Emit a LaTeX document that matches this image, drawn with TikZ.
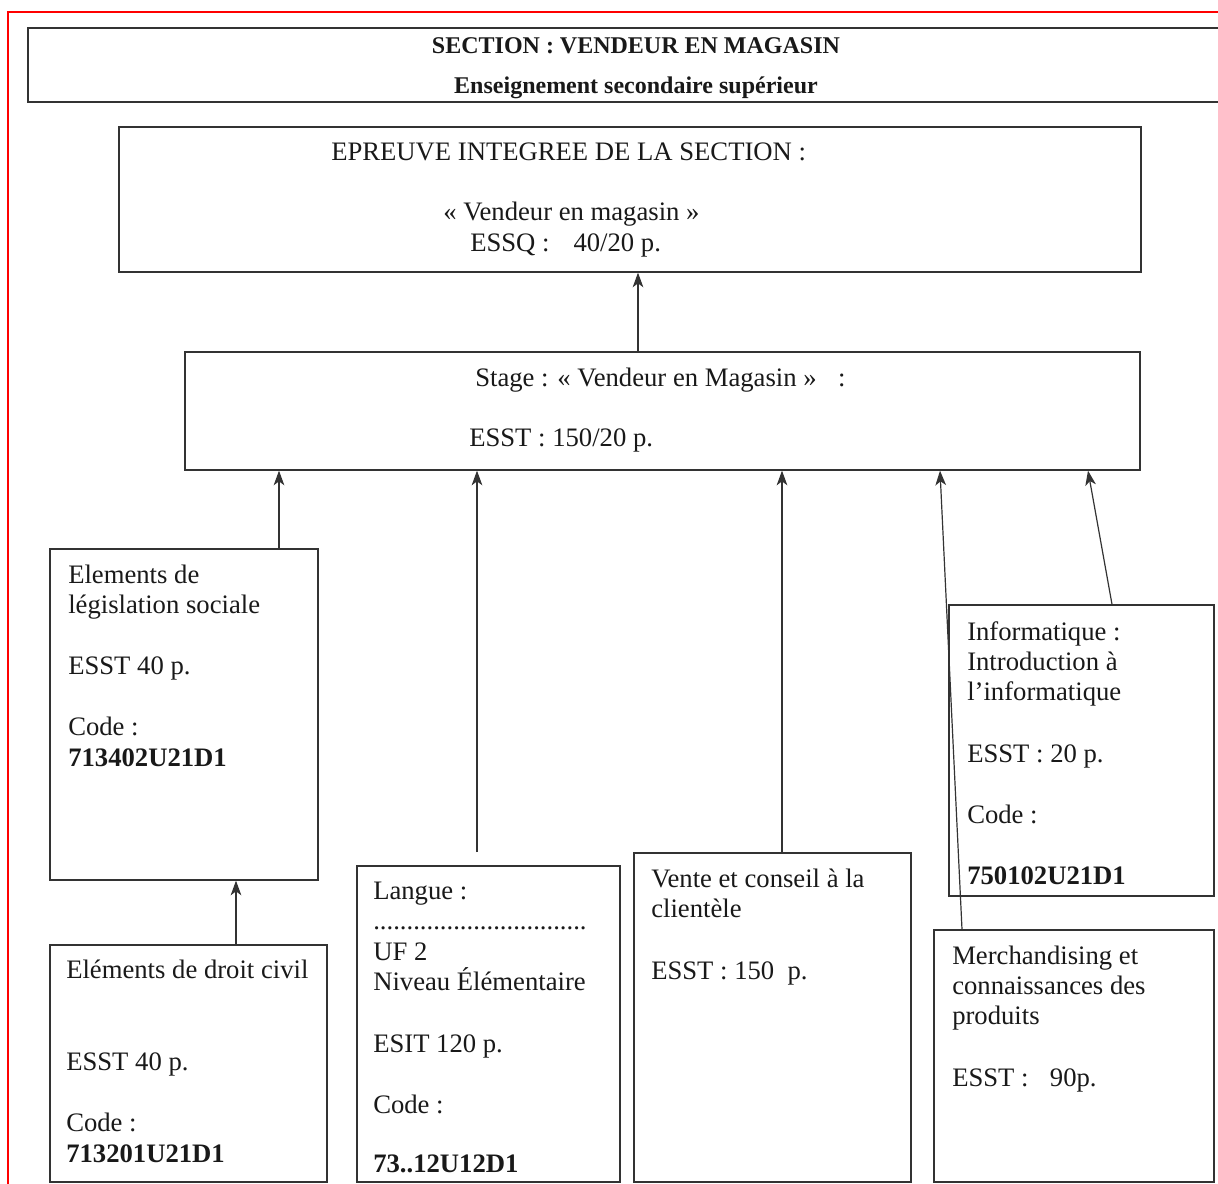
\documentclass[tikz,border=0pt]{standalone}
\usepackage{fontspec}
\setmainfont{Liberation Serif}
\usetikzlibrary{arrows.meta,fit}
\begin{document}
\begin{tikzpicture}[x=0.75pt,y=-0.75pt,
  box/.style={draw=black!80,line width=1pt,inner sep=0pt,rectangle},
  txt/.style={inner sep=0pt,anchor=base west,font=\fontsize{20}{24}\selectfont,text=black!90},
  hdr/.style={inner sep=0pt,anchor=base,font=\fontsize{18}{22}\selectfont\bfseries,text=black!90},
  arr/.style={draw=black!80,line width=0.9pt,-{Stealth[length=11pt,width=8pt,inset=3pt]}}]
\useasboundingbox (0,0) rectangle (1218,1184);
\fill[white] (0,0) rectangle (1218,1184);
% red frame
\draw[red,line width=1.5pt] (8,1190) -- (8,12) -- (1225,12);

% header
\node[box,fit={(28,28) (1226,102)}] (head) {};
\node[hdr] (h1) at (636,54) {SECTION : VENDEUR EN MAGASIN};
\node[hdr] (h2) at (636,94) {Enseignement secondaire supérieur};

% epreuve
\node[box,fit={(119,127) (1141,272)}] (epr) {};
\node[txt] (e1) at (331,161) {EPREUVE INTEGREE DE LA SECTION :};
\node[txt] (e2) at (443,221) {« Vendeur en magasin »};
\node[txt] (e3) at (470,252) {ESSQ :\hspace{0.9em}40/20 p.};

% stage
\node[box,fit={(185,352) (1140,470)}] (stage) {};
\node[txt] (s1) at (475,386) {Stage : « Vendeur en Magasin »\hspace{0.8em}:};
\node[txt] (s2) at (469,446) {ESST : 150/20 p.};

% legislation sociale
\node[box,fit={(50,549) (318,880)}] (legis) {};
\node[txt] (l1) at (68,583) {Elements de};
\node[txt] (l2) at (68,613) {législation sociale};
\node[txt] (l3) at (68,674) {ESST 40 p.};
\node[txt] (l4) at (68,735) {Code :};
\node[txt] (l5) at (68,766) {\bfseries 713402U21D1};

% droit civil
\node[box,fit={(50,945) (327,1182)}] (droit) {};
\node[txt] (d1) at (66,978) {Eléments de droit civil};
\node[txt] (d2) at (66,1070) {ESST 40 p.};
\node[txt] (d3) at (66,1131) {Code :};
\node[txt] (d4) at (66,1162) {\bfseries 713201U21D1};

% langue
\node[box,fit={(357,866) (620,1182)}] (langue) {};
\node[txt] (g1) at (373,899) {Langue :};
\node[txt] (g2) at (373,929) {................................};
\node[txt] (g3) at (373,960) {UF 2};
\node[txt] (g4) at (373,990) {Niveau Élémentaire};
\node[txt] (g5) at (373,1052) {ESIT 120 p.};
\node[txt] (g6) at (373,1113) {Code :};
\node[txt] (g7) at (373,1172) {\bfseries 73..12U12D1};

% vente
\node[box,fit={(634,853) (911,1182)}] (vente) {};
\node[txt] (v1) at (651,887) {Vente et conseil à la};
\node[txt] (v2) at (651,917) {clientèle};
\node[txt] (v3) at (651,979) {ESST : 150\hspace{0.5em}p.};

% informatique
\node[box,fit={(949,605) (1214,896)}] (info) {};
\node[txt] (i1) at (967,640) {Informatique :};
\node[txt] (i2) at (967,670) {Introduction à};
\node[txt] (i3) at (967,700) {l’informatique};
\node[txt] (i4) at (967,762) {ESST : 20 p.};
\node[txt] (i5) at (967,823) {Code :};
\node[txt] (i6) at (967,884) {\bfseries 750102U21D1};

% merchandising
\node[box,fit={(934,930) (1214,1182)}] (merch) {};
\node[txt] (m1) at (952,964) {Merchandising et};
\node[txt] (m2) at (952,994) {connaissances des};
\node[txt] (m3) at (952,1024) {produits};
\node[txt] (m4) at (952,1086) {ESST :\hspace{0.8em}90p.};

% x positions
\coordinate (xa) at (638,0);
\coordinate (xb) at (279,0);
\coordinate (xc) at (236,0);
\coordinate (xd) at (477,0);
\coordinate (xe) at (782,0);
\coordinate (xf) at (940,0);
\coordinate (xg) at (962,0);
\coordinate (xh) at (1088,0);
\coordinate (xi) at (1112,0);
\coordinate (langend) at (477,852);

% connectors
\draw[arr] (stage.north -| xa) -- (epr.south -| xa);
\draw[arr] (legis.north -| xb) -- (stage.south -| xb);
\draw[arr] (droit.north -| xc) -- (legis.south -| xc);
\draw[arr] (langend) -- (stage.south -| xd);
\draw[arr] (vente.north -| xe) -- (stage.south -| xe);
\draw[arr] (merch.north -| xg) -- (stage.south -| xf);
\draw[arr] (info.north -| xi) -- (stage.south -| xh);
\end{tikzpicture}
\end{document}
